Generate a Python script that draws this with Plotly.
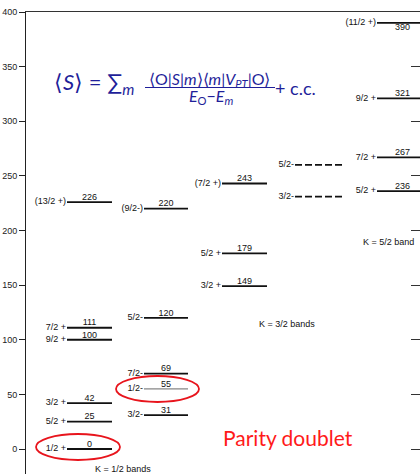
import plotly.graph_objects as go

# ---------------- data ----------------
k12_pos_energy = [0, 25, 42, 100, 111, 226]
k12_pos_spin = ["1/2 +", "5/2 +", "3/2 +", "9/2 +", "7/2 +", "(13/2 +)"]

k12_neg_energy = [31, 55, 69, 120, 220]
k12_neg_spin = ["3/2-", "1/2-", "7/2-", "5/2-", "(9/2-)"]

k32_pos_energy = [149, 179, 243]
k32_pos_spin = ["3/2 +", "5/2 +", "(7/2 +)"]

k32_neg_energy = [231, 260]
k32_neg_spin = ["3/2-", "5/2-"]

k52_energy = [236, 267, 321, 390]
k52_spin = ["5/2 +", "7/2 +", "9/2 +", "(11/2 +)"]

y_ticks = [0, 50, 100, 150, 200, 250, 300, 350, 400]

# ---------------- layout helpers ----------------
W, H = 420, 474
L, T = 26, 12
Y0_PX, Y400_PX = 449, 12
PPU = (Y0_PX - Y400_PX) / 400.0
Y_MIN = -(H - Y0_PX) / PPU
X_MAX = W - L


def xd(px):
    return px - L


def yd(py):
    return (Y0_PX - py) / PPU


FONT = "Liberation Sans, Arial, sans-serif"
fig = go.Figure()


def add_column(energies, spins, x0px, x1px, dash="solid", show_values=True,
               below=(), thin=()):
    x0, x1 = xd(x0px), xd(x1px)
    xc = (x0 + min(x1, X_MAX + 8)) / 2
    for e, s in zip(energies, spins):
        w = 0.9 if e in thin else 1.8
        col = "#555" if e in thin else "#111"
        fig.add_trace(go.Scatter(x=[x0, x1], y=[e, e], mode="lines",
                                 line=dict(color=col, width=w, dash=dash),
                                 hoverinfo="skip", showlegend=False))
        fig.add_trace(go.Scatter(x=[x0 - 1], y=[e], mode="text", text=[s],
                                 textposition="middle left",
                                 textfont=dict(family=FONT, size=9, color="#111"),
                                 hoverinfo="skip", showlegend=False, cliponaxis=False))
        if show_values:
            fig.add_trace(go.Scatter(x=[xc], y=[e], mode="text", text=[str(e)],
                                     textposition="bottom center" if e in below else "top center",
                                     textfont=dict(family=FONT, size=9, color="#111"),
                                     hoverinfo="skip", showlegend=False, cliponaxis=False))


add_column(k12_pos_energy, k12_pos_spin, 67, 112)
add_column(k12_neg_energy, k12_neg_spin, 144, 188, thin=(55,))
add_column(k32_pos_energy, k32_pos_spin, 222, 267)
add_column(k32_neg_energy, k32_neg_spin, 295, 345, dash="7px,3px", show_values=False)
add_column(k52_energy, k52_spin, 377, 428, below=(390,))

# invisible trace for right axis
fig.add_trace(go.Scatter(x=[0], y=[0], yaxis="y2", mode="markers",
                         marker=dict(opacity=0), hoverinfo="skip", showlegend=False))

annotations = []


def ann(text, px, py, size, color="#111", family=FONT, xanchor="center"):
    annotations.append(dict(text=text, x=xd(px), y=yd(py), xref="x", yref="y",
                            showarrow=False, xanchor=xanchor, yanchor="middle",
                            font=dict(family=family, size=size, color=color)))


ann("K = 1/2 bands", 123, 469, 9)
ann("K = 3/2 bands", 287, 324, 9)
ann("K = 5/2 band", 388, 242, 9)

NAVY = "#1f1f9a"
MF = "Lato, Open Sans, sans-serif"
ann("⟨<i>S</i>⟩ = ∑<sub><i>m</i></sub>", 94, 83, 22, NAVY, MF)
ann("⟨O|<i>S</i>|<i>m</i>⟩⟨<i>m</i>|<i>V</i><sub><i>PT</i></sub>|O⟩", 210, 79, 16, NAVY, MF)
ann("<i>E</i><sub>O</sub>−<i>E</i><sub><i>m</i></sub>", 211, 96, 16, NAVY, MF)
ann("+ c.c.", 295, 88, 18, NAVY, MF)
ann("Parity doublet", 288, 437, 21, "#ff1a1a", MF)

shapes = [
    dict(type="line", xref="x", yref="y", x0=xd(145), x1=xd(275), y0=yd(87.5), y1=yd(87.5),
         line=dict(color=NAVY, width=1)),
    dict(type="circle", xref="x", yref="y", x0=xd(36), x1=xd(120), y0=yd(434), y1=yd(460),
         line=dict(color="#e8141c", width=1.8)),
    dict(type="circle", xref="x", yref="y", x0=xd(116), x1=xd(199), y0=yd(376), y1=yd(402),
         line=dict(color="#e8141c", width=1.8)),
]

fig.update_layout(
    width=W, height=H,
    margin=dict(l=L, r=0, t=T, b=0),
    paper_bgcolor="white", plot_bgcolor="white",
    showlegend=False,
    annotations=annotations, shapes=shapes,
    xaxis=dict(range=[0, X_MAX], side="top", showline=True, linecolor="#333", linewidth=1,
               showticklabels=False, ticks="", showgrid=False, zeroline=False, fixedrange=True),
    yaxis=dict(range=[Y_MIN, 400], tickvals=y_ticks, ticks="outside", ticklen=6,
               tickcolor="#222", tickwidth=1, showline=True, linecolor="#222", linewidth=1,
               showgrid=False, zeroline=False,
               tickfont=dict(family=FONT, size=9, color="#222")),
    yaxis2=dict(range=[Y_MIN, 400], overlaying="y", side="right", tickvals=y_ticks,
                ticks="inside", ticklen=9, tickcolor="#333", showticklabels=False,
                showline=True, linecolor="#bbb", linewidth=1, showgrid=False, zeroline=False),
)

fig.write_html("out.html")
